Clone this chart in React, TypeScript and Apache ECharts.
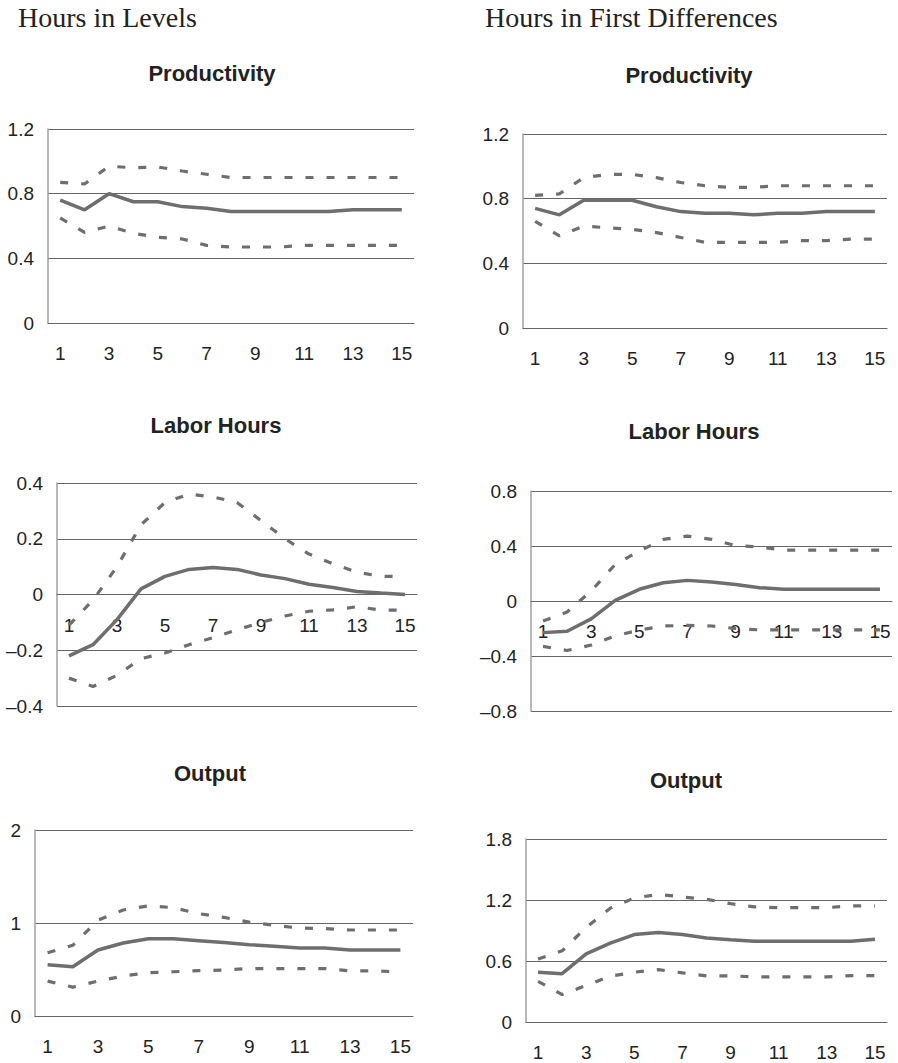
import React, { useEffect, useRef } from "react";
import * as echarts from "echarts";

// ---------- data ----------
const periods = ["1", "2", "3", "4", "5", "6", "7", "8", "9", "10", "11", "12", "13", "14", "15"];

const headers = ["Hours in Levels", "Hours in First Differences"];
const panelTitles = ["Productivity", "Productivity", "Labor Hours", "Labor Hours", "Output", "Output"];

// Productivity, hours in levels
const prodLevelIrf = [0.76, 0.70, 0.80, 0.75, 0.75, 0.72, 0.71, 0.69, 0.69, 0.69, 0.69, 0.69, 0.70, 0.70, 0.70];
const prodLevelUpper = [0.87, 0.86, 0.97, 0.96, 0.965, 0.94, 0.92, 0.90, 0.90, 0.90, 0.90, 0.90, 0.90, 0.90, 0.90];
const prodLevelLower = [0.65, 0.56, 0.60, 0.555, 0.53, 0.52, 0.48, 0.47, 0.47, 0.47, 0.48, 0.48, 0.48, 0.48, 0.48];

// Productivity, hours in first differences
const prodDiffIrf = [0.74, 0.70, 0.79, 0.79, 0.79, 0.75, 0.72, 0.71, 0.71, 0.70, 0.71, 0.71, 0.72, 0.72, 0.72];
const prodDiffUpper = [0.82, 0.83, 0.93, 0.95, 0.95, 0.93, 0.90, 0.88, 0.87, 0.87, 0.88, 0.88, 0.88, 0.88, 0.88];
const prodDiffLower = [0.66, 0.57, 0.63, 0.62, 0.61, 0.59, 0.56, 0.53, 0.53, 0.53, 0.53, 0.54, 0.54, 0.55, 0.55];

// Labor hours, hours in levels
const hoursLevelIrf = [-0.22, -0.18, -0.09, 0.02, 0.065, 0.09, 0.097, 0.09, 0.07, 0.057, 0.037, 0.025, 0.011, 0.005, 0];
const hoursLevelUpper = [-0.11, -0.02, 0.10, 0.25, 0.33, 0.36, 0.35, 0.33, 0.265, 0.20, 0.145, 0.11, 0.08, 0.065, 0.065];
const hoursLevelLower = [-0.30, -0.33, -0.29, -0.23, -0.21, -0.18, -0.155, -0.127, -0.10, -0.077, -0.06, -0.055, -0.044, -0.056, -0.056];

// Labor hours, hours in first differences
const hoursDiffIrf = [-0.23, -0.22, -0.13, 0.005, 0.085, 0.133, 0.15, 0.138, 0.12, 0.097, 0.085, 0.085, 0.085, 0.085, 0.085];
const hoursDiffUpper = [-0.145, -0.08, 0.073, 0.266, 0.363, 0.448, 0.472, 0.448, 0.404, 0.392, 0.37, 0.37, 0.37, 0.37, 0.37];
const hoursDiffLower = [-0.33, -0.36, -0.32, -0.254, -0.211, -0.182, -0.177, -0.182, -0.2, -0.21, -0.21, -0.21, -0.21, -0.21, -0.21];

// Output, hours in levels
const outLevelIrf = [0.55, 0.53, 0.71, 0.785, 0.83, 0.83, 0.81, 0.79, 0.767, 0.75, 0.73, 0.73, 0.71, 0.71, 0.71];
const outLevelUpper = [0.68, 0.76, 1.03, 1.14, 1.185, 1.165, 1.10, 1.06, 1.01, 0.975, 0.945, 0.94, 0.925, 0.925, 0.925];
const outLevelLower = [0.375, 0.31, 0.375, 0.43, 0.465, 0.476, 0.487, 0.495, 0.51, 0.51, 0.51, 0.51, 0.485, 0.485, 0.473];

// Output, hours in first differences
const outDiffIrf = [0.49, 0.475, 0.67, 0.775, 0.86, 0.88, 0.86, 0.827, 0.81, 0.795, 0.795, 0.795, 0.795, 0.795, 0.815];
const outDiffUpper = [0.62, 0.70, 0.93, 1.12, 1.22, 1.255, 1.23, 1.207, 1.164, 1.132, 1.125, 1.125, 1.125, 1.142, 1.142];
const outDiffLower = [0.40, 0.27, 0.36, 0.45, 0.49, 0.515, 0.483, 0.454, 0.454, 0.444, 0.444, 0.444, 0.444, 0.457, 0.457];

// y-axis ranges: [min, max, interval]
const yRanges = [
  [0, 1.2, 0.4],
  [0, 1.2, 0.4],
  [-0.4, 0.4, 0.2],
  [-0.8, 0.8, 0.4],
  [0, 2, 1],
  [0, 1.8, 0.6],
];

const panelData = [
  [prodLevelIrf, prodLevelUpper, prodLevelLower],
  [prodDiffIrf, prodDiffUpper, prodDiffLower],
  [hoursLevelIrf, hoursLevelUpper, hoursLevelLower],
  [hoursDiffIrf, hoursDiffUpper, hoursDiffLower],
  [outLevelIrf, outLevelUpper, outLevelLower],
  [outDiffIrf, outDiffUpper, outDiffLower],
];

// ---------- layout ----------
const gridBoxes = [
  { left: 48, top: 129, width: 366, height: 194 },
  { left: 523, top: 134, width: 364, height: 194 },
  { left: 57, top: 483, width: 360, height: 223 },
  { left: 531, top: 491, width: 361, height: 220 },
  { left: 35, top: 830, width: 378, height: 186 },
  { left: 526, top: 839, width: 361, height: 183 },
];
const titlePos = [
  [212, 73],
  [689, 75],
  [216, 425],
  [694, 431],
  [210, 773],
  [686, 780],
];
const headerPos = [
  [18, 17],
  [485, 17],
];

const SANS = "'Liberation Sans', Arial, Helvetica, sans-serif";
const SERIF = "'Liberation Serif', 'Times New Roman', serif";
const LINE = "#6e6e6e";

function fmt(v: number) {
  const s = String(Math.round(v * 100) / 100);
  return s.replace("-", "\u2013");
}

export default function App() {
  const ref = useRef<HTMLDivElement>(null);
  useEffect(() => {
    document.body.style.margin = "0";
    if (!ref.current) return;
    const chart = echarts.init(ref.current, undefined, { renderer: "svg" });

    const grid = gridBoxes.map((g) => ({ ...g, containLabel: false }));
    const xAxis = gridBoxes.map((g, i) => {
      const [min, max] = yRanges[i];
      // place the category axis on the zero line of the value axis
      const zeroOffset = min < 0 ? -(g.height * (0 - min)) / (max - min) : 0;
      return {
        type: "category",
        gridIndex: i,
        data: periods,
        boundaryGap: true,
        position: "bottom",
        offset: zeroOffset,
        axisTick: { show: false },
        axisLine: { show: true, onZero: false, lineStyle: { color: "#666", width: 1 } },
        axisLabel: { interval: 1, margin: 21, fontSize: 19, color: "#222", fontFamily: SANS },
        splitLine: { show: false },
        z: 1,
      };
    });
    const yAxis = yRanges.map(([min, max, interval], i) => ({
      type: "value",
      gridIndex: i,
      min,
      max,
      interval,
      axisLine: { show: true, onZero: false, lineStyle: { color: "#a0a0a0", width: 1.5 } },
      axisTick: { show: false },
      axisLabel: { margin: 14, fontSize: 19, color: "#222", fontFamily: SANS, formatter: fmt },
      splitLine: { show: true, lineStyle: { color: "#666", width: 1 } },
    }));

    const series: any[] = [];
    panelData.forEach(([irf, up, lo], i) => {
      [up, lo].forEach((d) =>
        series.push({
          type: "line",
          xAxisIndex: i,
          yAxisIndex: i,
          data: d,
          symbol: "none",
          silent: true,
          z: 4,
          lineStyle: { color: LINE, width: 3.2, type: [8, 13] },
        })
      );
      series.push({
        type: "line",
        xAxisIndex: i,
        yAxisIndex: i,
        data: irf,
        symbol: "none",
        silent: true,
        z: 5,
        lineStyle: { color: LINE, width: 3.5, type: "solid" },
      });
    });

    const graphic: any[] = [];
    headers.forEach((h, i) =>
      graphic.push({
        type: "text",
        x: headerPos[i][0],
        y: headerPos[i][1],
        style: {
          text: h,
          fontSize: 28,
          fontFamily: SERIF,
          fill: "#222",
          align: "left",
          verticalAlign: "middle",
        },
      })
    );
    panelTitles.forEach((t, i) =>
      graphic.push({
        type: "text",
        x: titlePos[i][0],
        y: titlePos[i][1],
        style: {
          text: t,
          fontSize: 22,
          fontWeight: "bold",
          fontFamily: SANS,
          fill: "#222",
          align: "center",
          verticalAlign: "middle",
        },
      })
    );

    chart.setOption({
      animation: false,
      backgroundColor: "#fff",
      grid,
      xAxis,
      yAxis,
      series,
      graphic,
    });
    return () => chart.dispose();
  }, []);
  return (
    <div
      ref={ref}
      style={{ position: "absolute", left: 0, top: 0, width: 898, height: 1063 }}
    />
  );
}
